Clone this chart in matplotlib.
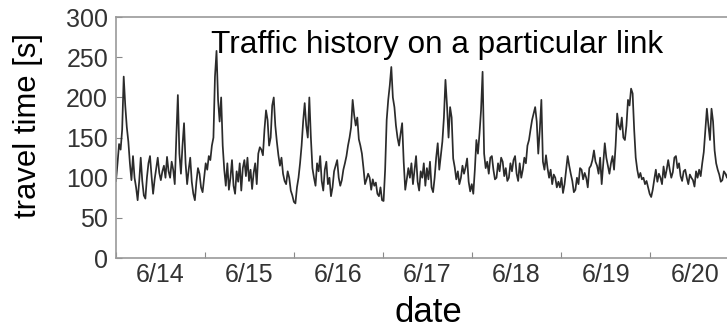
import numpy as np
import pandas as pd
import matplotlib
matplotlib.use('Agg')
import matplotlib.pyplot as plt
import matplotlib.dates as mdates
from matplotlib.ticker import FuncFormatter, NullFormatter

plt.rcParams['font.family'] = ['Liberation Sans', 'DejaVu Sans']

start = '2014-06-14 00:05'
step = '25min'

tt_a = [96, 118, 142, 135, 160, 226, 190, 163, 145, 118, 97, 127, 100, 88, 72, 95,
        125, 96, 78, 74, 100, 118, 127, 102, 80, 98, 112, 125, 106, 97, 108, 115,
        100, 126, 108, 100, 120, 110, 92, 150, 203, 130, 105, 140, 168, 118]
tt_b = [92, 110, 125, 95, 80, 72, 95, 112, 105, 88, 82, 100, 118, 110, 127, 122,
        140, 150, 226, 258, 197, 170, 200, 140, 110, 90, 118, 85, 100, 122, 90, 80,
        108, 95, 118, 84, 112, 122, 102, 125, 96, 110, 86, 106, 118, 92, 130, 138]
tt_c = [135, 128, 160, 184, 172, 140, 150, 190, 200, 165, 145, 128, 115, 125, 105, 96,
        92, 108, 100, 84, 78, 70, 68, 88, 100, 118, 140, 170, 193, 165, 150, 200,
        150, 112, 100, 90, 118, 108, 127, 96, 84, 110, 120, 92, 100, 77, 88, 108]
tt_d = [115, 122, 100, 90, 97, 110, 118, 127, 140, 150, 163, 197, 178, 165, 175, 148,
        140, 130, 112, 92, 98, 105, 100, 85, 98, 90, 94, 80, 77, 88, 72, 71,
        110, 172, 197, 215, 238, 200, 188, 165, 150, 140, 155, 168, 120, 85, 98, 112]
tt_e = [100, 118, 92, 110, 127, 95, 84, 108, 100, 118, 90, 112, 98, 120, 88, 82,
        100, 125, 143, 110, 127, 145, 175, 222, 190, 150, 188, 175, 124, 113, 98, 108,
        92, 100, 115, 105, 113, 124, 95, 83, 92, 80, 110, 147, 130, 155, 184, 232]
tt_f = [130, 112, 120, 105, 125, 127, 110, 98, 100, 118, 108, 125, 120, 102, 112, 96,
        100, 118, 108, 122, 127, 105, 96, 118, 100, 110, 125, 118, 140, 147, 160, 172,
        180, 188, 170, 130, 160, 197, 120, 110, 128, 112, 100, 110, 92, 104, 100, 88]
tt_g = [95, 88, 100, 81, 92, 110, 127, 115, 105, 96, 82, 85, 100, 92, 112, 110,
        98, 106, 100, 88, 112, 115, 122, 134, 120, 115, 105, 125, 92, 118, 143, 125,
        115, 105, 118, 127, 110, 140, 180, 165, 160, 175, 150, 147, 165, 197, 190, 211]
tt_h = [205, 160, 125, 110, 100, 106, 98, 100, 92, 96, 88, 80, 76, 85, 98, 110,
        95, 105, 100, 92, 114, 100, 110, 122, 110, 100, 107, 125, 127, 112, 118, 102,
        96, 108, 110, 100, 92, 104, 100, 97, 89, 108, 100, 110, 102, 118, 132, 160,
        186, 165, 147, 186, 170, 134, 118, 110, 104, 95, 97, 108, 105, 100, 110, 98,
        105, 92, 100, 108, 102, 96]

travel_time = tt_a + tt_b + tt_c + tt_d + tt_e + tt_f + tt_g + tt_h
t = pd.date_range(start, periods=len(travel_time), freq=step)

title = 'Traffic history on a particular link'
y_ticks = [0, 50, 100, 150, 200, 250, 300]
x_start, x_end = '2014-06-14', '2014-06-21'

fig = plt.figure(figsize=(7.27, 3.29), dpi=100)
ax = fig.add_axes([0.1591, 0.2158, 0.8579, 0.7319])
ax.plot(t, travel_time, color='#2b2b2b', lw=1.25)

ax.set_xlim(pd.Timestamp(x_start), pd.Timestamp(x_end))
ax.set_ylim(0, 300)
ax.set_yticks(y_ticks)

# tick marks at midnight, labels at noon
ax.xaxis.set_major_locator(mdates.DayLocator())
ax.xaxis.set_major_formatter(NullFormatter())
ax.xaxis.set_minor_locator(mdates.HourLocator(byhour=12))
def day_label(v, pos):
    d = mdates.num2date(v)
    return f'{d.month}/{d.day}'
ax.xaxis.set_minor_formatter(FuncFormatter(day_label))

ax.tick_params(axis='x', which='major', direction='in', length=4, color='#888888')
ax.tick_params(axis='x', which='minor', length=0, pad=3.6, labelsize=18, labelcolor='#333333')
ax.tick_params(axis='y', direction='in', length=4, pad=5.5, labelsize=18,
               labelcolor='#333333', color='#888888')
for s in ax.spines.values():
    s.set_color('#999999')
    s.set_linewidth(1.2)

ax.text(0.1528, 0.851, title, transform=ax.transAxes, fontsize=22.7, va='baseline')
fig.text(28 / 727, 1 - 125 / 329, 'travel time [s]', rotation=90,
         ha='center', va='center', fontsize=22.3)
fig.text(428 / 727, 1 - 322 / 329, 'date', ha='center', va='baseline', fontsize=25)

fig.savefig('out.png', dpi=100)
